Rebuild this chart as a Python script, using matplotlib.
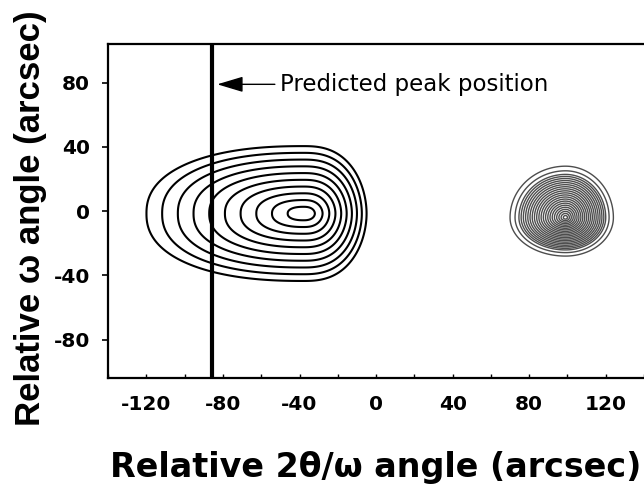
import numpy as np
import matplotlib.pyplot as plt

plt.rcParams['font.family'] = ['DejaVu Sans']
plt.rcParams['axes.unicode_minus'] = False

# --- values (arcsec) ---
# layer peak: centre and ring spacing along each direction
layer_center = (-38, -1.5)
layer_left_step = 8.2        # ring spacing towards low angle
layer_right_scale = 6.0      # high-angle side: rings crowd outwards
layer_right_power = 1.35
layer_vert_step = 4.2
layer_shape = (2.3, 1.9)     # ring roundness, left / right
layer_rings = [1, 2, 3, 4, 5, 6, 7, 8, 9, 10]

# substrate peak: centre, half widths and ring radii (fraction of outer ring)
sub_center = (99, -4)
sub_sx = (29.0, 25.0)       # left, right
sub_sy = (24.0, 32.0)       # down, up
sub_rings = [0.04, 0.08, 0.12, 0.16, 0.2, 0.24, 0.28, 0.32, 0.36, 0.4,
             0.44, 0.48, 0.52, 0.56, 0.6, 0.64, 0.68, 0.72, 0.76, 0.8,
             0.84, 0.91, 1.0]

predicted_x = -86
x_ticks = [-120, -80, -40, 0, 40, 80, 120]
y_ticks = [-80, -40, 0, 40, 80]

xs = np.linspace(-145, 140, 700)
ys = np.linspace(-110, 110, 550)
X, Y = np.meshgrid(xs, ys)

# layer peak: ring index as a field
dx = X - layer_center[0]
dy = Y - layer_center[1]
hx = np.where(dx < 0, -dx / layer_left_step,
              (np.abs(dx) / layer_right_scale) ** layer_right_power)
hy = np.abs(dy) / layer_vert_step
p = np.where(dx < 0, layer_shape[0], layer_shape[1])
layer_r = (hx ** p + hy ** p) ** (1 / p)

# substrate peak (normalised radius)
sdx = X - sub_center[0]
sdy = Y - sub_center[1]
ssx = np.where(sdx < 0, sub_sx[0], sub_sx[1])
ssy = np.where(sdy < 0, sub_sy[0], sub_sy[1])
sub_r = np.sqrt((sdx / ssx) ** 2 + (sdy / ssy) ** 2)

fig = plt.figure(figsize=(6.44, 4.91), dpi=100)
ax = fig.add_axes([0.168, 0.23, 0.832, 0.68])

ax.contour(X, Y, layer_r, levels=layer_rings, colors='black', linewidths=1.5)
ax.contour(X, Y, sub_r, levels=sub_rings, colors='#4d4d4d', linewidths=1.0)

ax.axvline(predicted_x, color='black', lw=3)
ax.annotate('Predicted peak position', xy=(-83, 79), xytext=(-50, 79),
            fontsize=16.5, ha='left', va='center',
            arrowprops=dict(arrowstyle='-|>,head_length=1.0,head_width=0.3',
                            color='black', lw=1, mutation_scale=16,
                            shrinkA=2, shrinkB=0))

ax.set_xlim(-139, 138)
ax.set_ylim(-104, 104)
ax.set_xticks(x_ticks)
ax.set_xticks(np.arange(-140, 141, 20), minor=True)
ax.set_yticks(y_ticks)
ax.tick_params(axis='x', direction='in', length=3, width=1, pad=12, labelsize=14.5)
ax.tick_params(axis='x', which='minor', direction='in', length=3, width=1)
ax.tick_params(axis='y', direction='out', length=4, width=1.2, pad=9, labelsize=14.5)
for lab in ax.get_xticklabels() + ax.get_yticklabels():
    lab.set_fontweight('bold')

for side in ['left', 'bottom', 'top']:
    ax.spines[side].set_linewidth(1.6)
ax.spines['right'].set_visible(False)

ax.set_xlabel('Relative 2\u03b8/\u03c9 angle (arcsec)', fontsize=24,
              fontweight='bold', labelpad=27)
ax.set_ylabel('Relative \u03c9 angle (arcsec)', fontsize=25, family='Liberation Sans',
              fontweight='bold')
ax.yaxis.set_label_coords(-0.115, 0.48)

fig.savefig('out.png', dpi=100)
